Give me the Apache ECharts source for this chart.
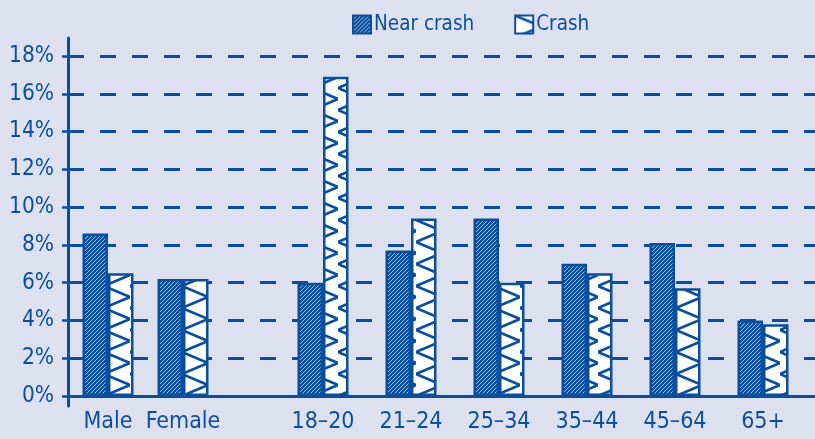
<!DOCTYPE html>
<html><head><meta charset="utf-8">
<script src="https://cdn.jsdelivr.net/npm/echarts@6/dist/echarts.min.js"></script>
<style>html,body{margin:0;padding:0;background:#dde0ef;}#c{width:815px;height:439px;}</style>
</head><body><div id="c"></div>
<script>
const sexCategories = ['Male', 'Female'];
const ageCategories = ['18–20', '21–24', '25–34', '35–44', '45–64', '65+'];
const nearCrashBySex = [8.6, 6.2];
const crashBySex = [6.5, 6.2];
const nearCrashByAge = [6.0, 7.7, 9.4, 7.0, 8.1, 4.0];
const crashByAge = [16.9, 9.4, 6.0, 6.5, 5.7, 3.8];
const yTicks = [0, 2, 4, 6, 8, 10, 12, 14, 16, 18];

const BLUE = '#0b4f9c';
const FONT = "'Liberation Sans Narrow', 'DejaVu Sans Condensed', 'Liberation Sans', sans-serif";

function nearPattern() {
  const s = 8, c = document.createElement('canvas');
  c.width = s; c.height = s;
  const g = c.getContext('2d');
  g.fillStyle = BLUE; g.fillRect(0, 0, s, s);
  g.strokeStyle = 'rgba(255,255,255,0.7)'; g.lineWidth = 0.9;
  for (const x0 of [-8, -4, 0, 4]) { g.beginPath(); g.moveTo(x0, s); g.lineTo(x0 + s, 0); g.stroke(); }
  return { image: c, repeat: 'repeat' };
}
function crashPattern() {
  const w = 26, h = 22, c = document.createElement('canvas');
  c.width = w; c.height = h;
  const g = c.getContext('2d');
  g.fillStyle = '#ffffff'; g.fillRect(0, 0, w, h);
  g.strokeStyle = BLUE; g.lineWidth = 2.6;
  g.beginPath(); g.moveTo(0, 0); g.lineTo(w, h / 2); g.lineTo(0, h); g.stroke();
  return { image: c, repeat: 'repeat' };
}
const nearFill = nearPattern(), crashFill = crashPattern();

const chart = echarts.init(document.getElementById('c'));
const yMax = yTicks[yTicks.length - 1];
const hiddenY = (i) => ({ type: 'value', gridIndex: i, min: 0, max: yMax, interval: 2, show: false });
const catX = (i, data) => ({
  type: 'category', gridIndex: i, data: data,
  axisLine: { show: false }, axisTick: { show: false },
  axisLabel: { color: BLUE, fontFamily: FONT, fontSize: 23, margin: 15, interval: 0 }
});
const barStyle = (fill) => ({ color: fill, borderColor: BLUE, borderWidth: 2.5 });

chart.setOption({
  backgroundColor: '#dde0ef',
  animation: false,
  legend: {
    top: 9, left: 347, itemWidth: 18, itemHeight: 18, itemGap: 40, icon: 'rect',
    textStyle: { color: BLUE, fontFamily: FONT, fontSize: 20.5, padding: [0, 0, 0, -2] },
    data: ['Near crash', 'Crash']
  },
  grid: [
    { left: 68, right: -2, top: 56, bottom: 43 },
    { left: 70.5, width: 150, top: 56, bottom: 43 },
    { left: 279, right: 8, top: 56, bottom: 43 },
    { left: 68, right: 0, top: 38, bottom: 33 }
  ],
  xAxis: [
    { type: 'value', gridIndex: 0, min: 0, max: 1, show: true,
      axisLabel: { show: false }, axisTick: { show: false }, splitLine: { show: false },
      axisLine: { show: true, onZero: false, lineStyle: { color: BLUE, width: 3 } } },
    catX(1, sexCategories),
    catX(2, ageCategories),
    { type: 'value', gridIndex: 3, show: false }
  ],
  yAxis: [
    { type: 'value', gridIndex: 0, min: 0, max: yMax, interval: 2,
      axisLine: { show: false },
      axisTick: { show: true, length: 6, lineStyle: { color: BLUE, width: 2.5 } },
      axisLabel: { color: BLUE, fontFamily: FONT, fontSize: 22.5, margin: 14, formatter: '{value}%' },
      splitLine: { show: true, lineStyle: { color: BLUE, width: 3, type: [16, 16] } } },
    hiddenY(1),
    hiddenY(2),
    { type: 'value', gridIndex: 3, min: 0, max: 1, axisLabel: { show: false }, axisTick: { show: false },
      splitLine: { show: false }, axisLine: { show: true, lineStyle: { color: BLUE, width: 3 } } }
  ],
  series: [
    { name: 'Near crash', type: 'bar', xAxisIndex: 1, yAxisIndex: 1, data: nearCrashBySex, barWidth: 25.5, barGap: '0%', itemStyle: barStyle(nearFill) },
    { name: 'Crash', type: 'bar', xAxisIndex: 1, yAxisIndex: 1, data: crashBySex, barWidth: 25.5, barGap: '0%', itemStyle: barStyle(crashFill) },
    { name: 'Near crash', type: 'bar', xAxisIndex: 2, yAxisIndex: 2, data: nearCrashByAge, barWidth: 25.5, barGap: '0%', itemStyle: barStyle(nearFill) },
    { name: 'Crash', type: 'bar', xAxisIndex: 2, yAxisIndex: 2, data: crashByAge, barWidth: 25.5, barGap: '0%', itemStyle: barStyle(crashFill) }
  ]
});
</script></body></html>
